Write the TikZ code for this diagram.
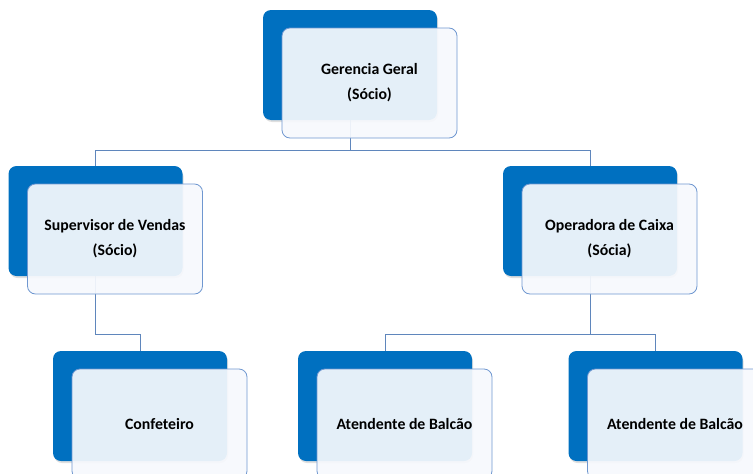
\documentclass[tikz,border=0pt]{standalone}
\usepackage{fontspec}
\setmainfont{Carlito}
\usetikzlibrary{positioning,backgrounds,shadows}
\definecolor{boxblue}{HTML}{0070C0}
\definecolor{boxline}{HTML}{6F97D0}
\definecolor{boxfill}{HTML}{F6F9FD}
\definecolor{linkline}{HTML}{5F86BC}

\begin{document}
\begin{tikzpicture}[
  x=1pt, y=-1pt,
  back/.style={fill=boxblue, rounded corners=8pt, minimum width=174pt, minimum height=110pt, inner sep=0pt,
    drop shadow={shadow xshift=1pt, shadow yshift=-2pt, opacity=0.25}},
  card/.style={draw=boxline, line width=0.8pt, fill=boxfill, fill opacity=0.93, text opacity=1,
    rounded corners=8pt, minimum width=175pt, minimum height=110pt, inner sep=0pt,
    align=center, font=\bfseries\fontsize{15.8}{25}\selectfont, shift={(19.5,18)}},
  link/.style={draw=linkline, line width=0.8pt},
]
\useasboundingbox (0,0) rectangle (753,474);
\clip (0,0) rectangle (753,474);

% top level
\node[back] (gerB) at (350,65) {};
\node[card] (ger) at (gerB) {Gerencia Geral\\(Sócio)};

% second level
\node[back] (supB) at (95.5,221) {};
\node[card] (sup) at (supB) {Supervisor de Vendas\\(Sócio)};
\node[back] (opB) at (590,221) {};
\node[card] (op) at (opB) {Operadora de Caixa\\(Sócia)};

% third level
\node[back] (confB) at (140,406) {};
\node[card] (conf) at (confB) {Confeteiro};
\node[back] (atdaB) at (385,406) {};
\node[card] (atda) at (atdaB) {Atendente de Balcão};
\node[back] (atdbB) at (655.5,406) {};
\node[card] (atdb) at (atdbB) {Atendente de Balcão};

% connectors behind the boxes
\begin{scope}[on background layer]
\draw[link] (gerB.center) -- ++(0,85) -| (supB.center);
\draw[link] (gerB.center) -- ++(0,85) -| (opB.center);
\draw[link] (supB.center) -- ++(0,113) -| (confB.center);
\draw[link] (opB.center) -- ++(0,113) -| (atdaB.center);
\draw[link] (opB.center) -- ++(0,113) -| (atdbB.center);
\end{scope}
\end{tikzpicture}
\end{document}
